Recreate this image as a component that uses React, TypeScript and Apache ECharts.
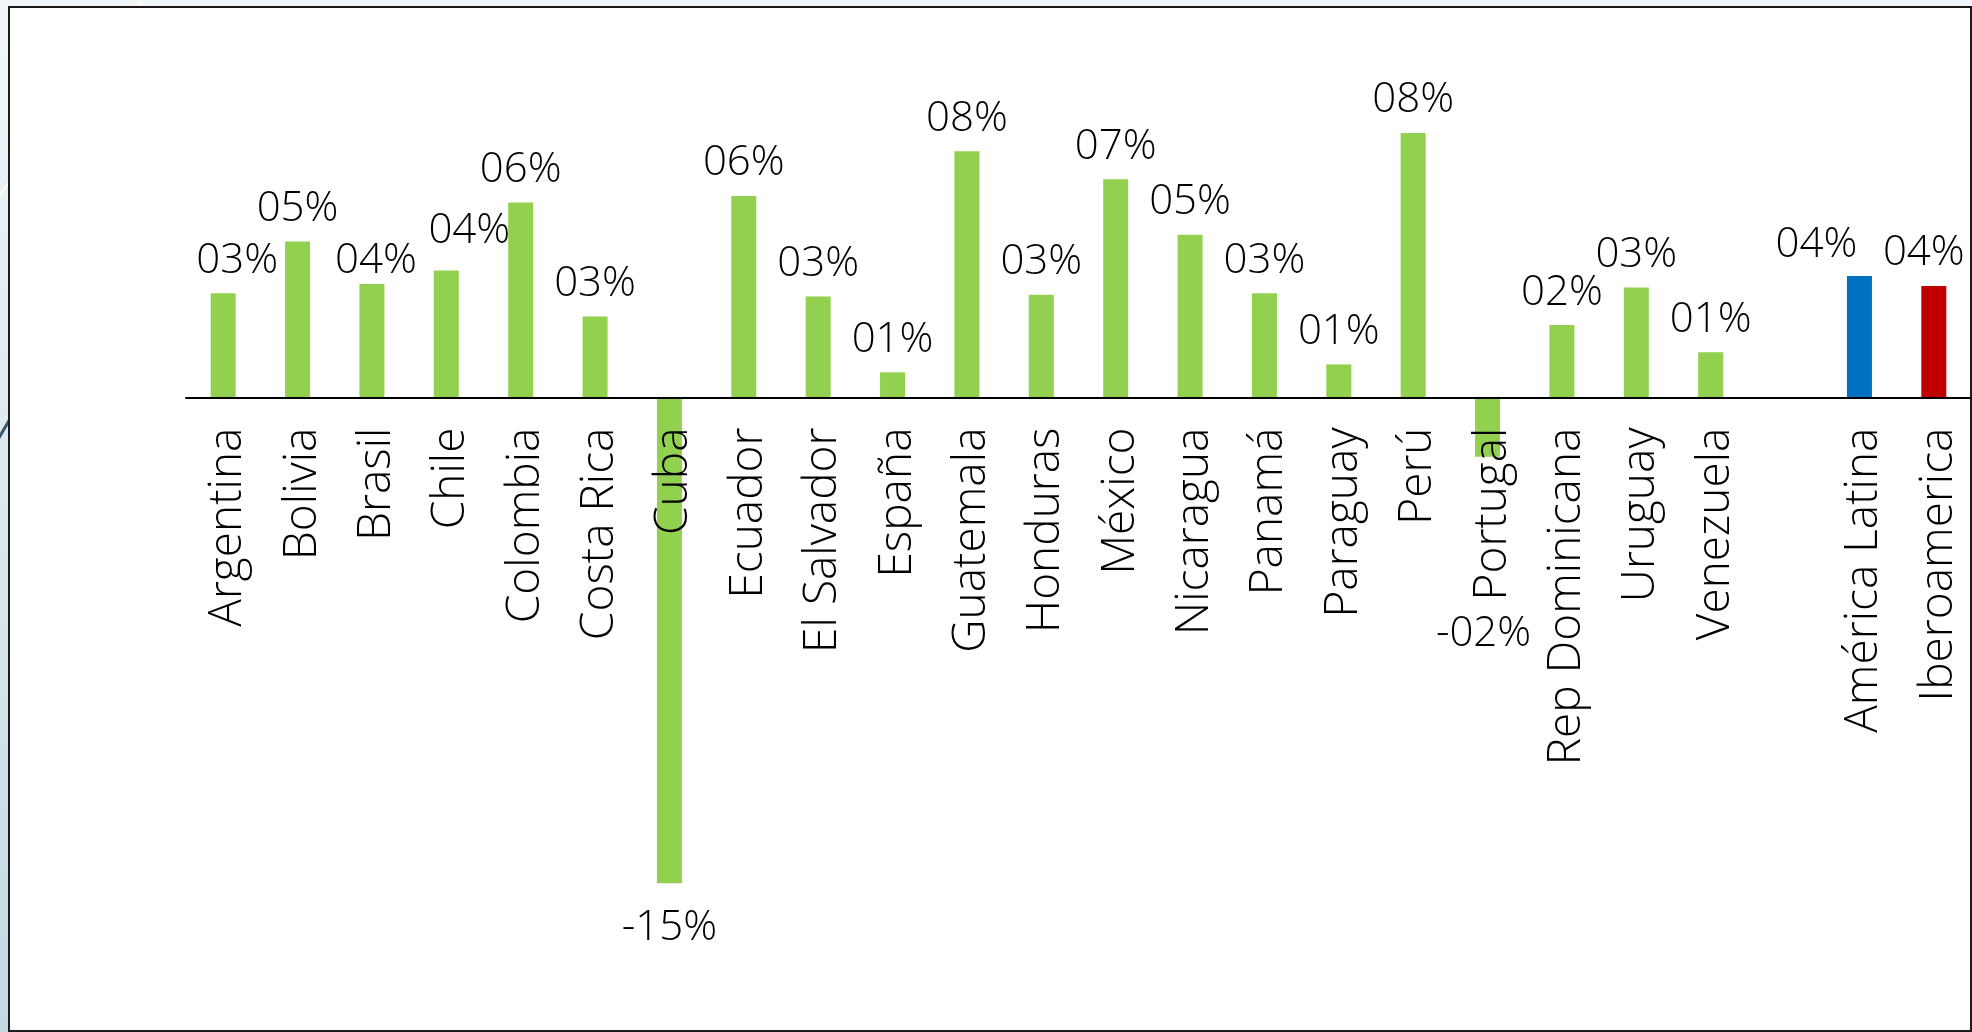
import React, { useEffect, useRef } from "react";
import * as echarts from "echarts";

// ---- data ----
const categories: string[] = [
  "Argentina", "Bolivia", "Brasil", "Chile", "Colombia", "Costa Rica", "Cuba",
  "Ecuador", "El Salvador", "España", "Guatemala", "Honduras", "México",
  "Nicaragua", "Panamá", "Paraguay", "Perú", "Portugal", "Rep Dominicana",
  "Uruguay", "Venezuela", "", "América Latina", "Iberoamerica",
];

// growth, percent
const values: (number | null)[] = [
  3.31, 4.95, 3.6, 4.03, 6.19, 2.57, -15.42,
  6.4, 3.21, 0.8, 7.82, 3.26, 6.93,
  5.17, 3.31, 1.05, 8.4, -1.88, 2.3,
  3.49, 1.44, null, 3.86, 3.54,
];

// ---- style helpers (not data) ----
const GREEN = "#92D050";
const specialColors: Record<string, string> = {
  "América Latina": "#0070C0",
  "Iberoamerica": "#C00000",
};
const labelNudge: Record<string, [number, number]> = {
  Argentina: [14, 0],
  Brasil: [4, 9],
  Chile: [23, -7],
  Portugal: [-4, 133],
  "América Latina": [-43, 2],
  Iberoamerica: [-10, 0],
};

const FONT = "'Open Sans', 'Noto Sans', sans-serif";

function fmt(v: number): string {
  const r = Math.round(v);
  const s = String(Math.abs(r)).padStart(2, "0");
  return (r < 0 ? "-" : "") + s + "%";
}

export default function App() {
  const ref = useRef<HTMLDivElement>(null);

  useEffect(() => {
    if (!ref.current) return;
    const chart = echarts.init(ref.current, null, { renderer: "svg" });

    const data = categories.map((c, i) => {
      const v = values[i];
      if (v === null) return { value: null };
      const item: any = {
        value: v,
        itemStyle: { color: specialColors[c] || GREEN },
        label: {
          position: v < 0 ? "bottom" : "top",
          distance: v < 0 ? 19 : 16,
        },
      };
      if (labelNudge[c]) item.label.offset = labelNudge[c];
      return item;
    });

    const Y_MIN = -16;
    const Y_MAX = 10;
    const TOP = 82.5;
    const BOTTOM_Y = 901.5;
    const zeroY = TOP + (BOTTOM_Y - TOP) * (Y_MAX / (Y_MAX - Y_MIN));

    chart.setOption({
      animation: false,
      backgroundColor: "transparent",
      graphic: [
        {
          type: "rect",
          z: -100,
          shape: { x: 0, y: 0, width: 1972, height: 1032 },
          style: {
            fill: new echarts.graphic.LinearGradient(0, 0, 0, 1, [
              { offset: 0, color: "#f2f6f8" },
              { offset: 1, color: "#c2d9e2" },
            ]),
          },
        },
        {
          type: "line",
          z: -99,
          shape: { x1: 0, y1: 195, x2: 142, y2: 0 },
          style: { stroke: "#ffffff", lineWidth: 2 },
        },
        {
          type: "line",
          z: -99,
          shape: { x1: -20, y1: 470, x2: 30, y2: 385 },
          style: { stroke: "#3d5a6c", lineWidth: 3 },
        },
        {
          type: "rect",
          z: -98,
          shape: { x: 9, y: 7, width: 1962, height: 1024 },
          style: { fill: "#ffffff", stroke: "#1a1a1a", lineWidth: 2 },
        },
      ],
      grid: [
        {
          left: 186,
          right: 1,
          top: TOP,
          bottom: 1032 - BOTTOM_Y,
          containLabel: false,
          outerBoundsMode: "none",
        },
        {
          left: 186,
          right: 1,
          top: TOP,
          bottom: 1032 - zeroY,
          containLabel: false,
          outerBoundsMode: "none",
        },
      ],
      xAxis: [
        {
          type: "category",
          gridIndex: 0,
          data: categories,
          show: false,
        },
        {
          type: "category",
          gridIndex: 1,
          data: categories,
          position: "bottom",
          z: 10,
          axisLine: { show: true, onZero: false, lineStyle: { color: "#000", width: 2 } },
          axisTick: { show: false },
          axisLabel: {
            rotate: 90,
            interval: 0,
            margin: 30,
            color: "#000",
            fontSize: 46,
            fontWeight: 300,
            fontFamily: FONT,
          },
        },
      ],
      yAxis: [
        {
          type: "value",
          gridIndex: 0,
          min: Y_MIN,
          max: Y_MAX,
          show: false,
          splitLine: { show: false },
        },
        {
          type: "value",
          gridIndex: 1,
          min: 0,
          max: 1,
          show: false,
          splitLine: { show: false },
        },
      ],
      series: [
        {
          type: "bar",
          xAxisIndex: 0,
          yAxisIndex: 0,
          data,
          barWidth: 25,
          label: {
            show: true,
            color: "#000",
            fontSize: 42,
            fontWeight: 300,
            fontFamily: FONT,
            formatter: (p: any) => fmt(p.value),
          },
        },
      ],
    });

    return () => chart.dispose();
  }, []);

  return (
    <div
      ref={ref}
      style={{ position: "fixed", left: 0, top: 0, width: 1972, height: 1032 }}
    />
  );
}
